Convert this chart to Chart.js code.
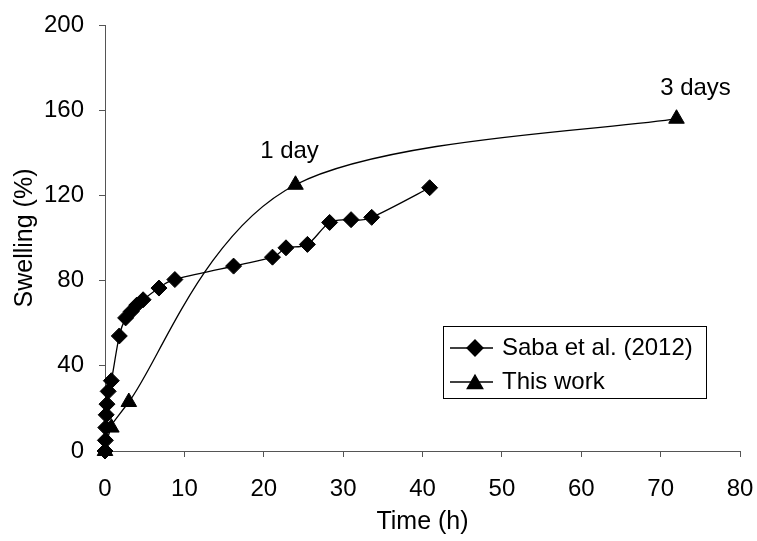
<!DOCTYPE html>
<html>
<head>
<meta charset="utf-8">
<script src="https://cdn.jsdelivr.net/npm/chart.js@4.4.1/dist/chart.umd.min.js"></script>
<style>html,body{margin:0;padding:0;background:#fff;}canvas{display:block;}</style>
</head>
<body>
<canvas id="c" width="757" height="541"></canvas>
<script>
// ---- data ----
const seriesNames = ['Saba et al. (2012)', 'This work'];
const sabaTime     = [0, 0.05, 0.1, 0.15, 0.25, 0.4, 0.8, 1.8, 2.6, 3.3, 4.0, 4.8, 6.8, 8.8, 16.2, 21.1, 22.8, 25.5, 28.3, 31.0, 33.6, 40.9];
const sabaSwelling = [0, 5, 11, 17, 22, 28, 33, 54, 62.5, 65.5, 68.5, 71, 76.5, 80.5, 86.8, 91, 95.4, 97, 107.3, 108.6, 109.7, 123.6];
const workTime     = [0, 0.8, 3, 24, 72];
const workSwelling = [0, 11, 23, 125, 156];
const workLabels   = [null, null, null, '1 day', '3 days'];
const xTicks = [0, 10, 20, 30, 40, 50, 60, 70, 80];
const yTicks = [0, 40, 80, 120, 160, 200];
const xTitle = 'Time (h)';
const yTitle = 'Swelling (%)';

const FONT = 'Liberation Sans, Arial, sans-serif';
const AXIS_COLOR = '#555';

function toPoints(xs, ys) { return xs.map((x, i) => ({x: x, y: ys[i]})); }

// Excel-like smoothing: control points at 1/6 of neighbour difference
const excelSmooth = {
  id: 'excelSmooth',
  beforeDatasetDraw(chart, args) {
    const meta = args.meta;
    const line = meta.dataset;
    if (!line) return;
    if (typeof line.updateControlPoints === 'function') line.updateControlPoints(chart.chartArea, 'x');
    const pts = meta.data;
    for (let i = 0; i < pts.length; i++) {
      const p = pts[i], prev = pts[i - 1] || p, next = pts[i + 1] || p;
      const dx = (next.x - prev.x) / 6, dy = (next.y - prev.y) / 6;
      p.cp1x = p.x - dx; p.cp1y = p.y - dy;
      p.cp2x = p.x + dx; p.cp2y = p.y + dy;
    }
    line._path = undefined;
  }
};

const overlay = {
  id: 'overlay',
  afterDraw(chart) {
    const ctx = chart.ctx;
    const xs = chart.scales.x, ys = chart.scales.y;
    ctx.save();
    // point annotations
    ctx.fillStyle = '#000';
    ctx.font = '24px ' + FONT;
    ctx.textAlign = 'center';
    ctx.textBaseline = 'middle';
    workLabels.forEach((lab, i) => {
      if (!lab) return;
      const px = xs.getPixelForValue(workTime[i]);
      const py = ys.getPixelForValue(workSwelling[i]);
      const dx = i === 3 ? -6 : 19;
      const dy = i === 3 ? -33 : -30;
      ctx.fillText(lab, px + dx, py + dy);
    });
    // legend box
    const bx = 443, by = 326, bw = 263, bh = 72;
    ctx.strokeStyle = '#000';
    ctx.lineWidth = 1;
    ctx.strokeRect(bx + 0.5, by + 0.5, bw, bh);
    const rows = [
      {label: seriesNames[0], y: 348, style: 'rectRot', r: 8},
      {label: seriesNames[1], y: 382, style: 'triangle', r: 9}
    ];
    rows.forEach(row => {
      ctx.beginPath();
      ctx.lineWidth = 1.3;
      ctx.moveTo(450, row.y);
      ctx.lineTo(493, row.y);
      ctx.stroke();
      ctx.fillStyle = '#000';
      Chart.helpers.drawPoint(ctx, {pointStyle: row.style, radius: row.r, borderWidth: 1, rotation: 0}, 475, row.style === 'triangle' ? row.y + 2 : row.y);
      ctx.fillStyle = '#000';
      ctx.textAlign = 'left';
      ctx.textBaseline = 'middle';
      ctx.font = '24px ' + FONT;
      ctx.fillText(row.label, 502, row.y);
    });
    ctx.restore();
  }
};

new Chart(document.getElementById('c'), {
  type: 'line',
  data: {
    datasets: [
      {
        label: seriesNames[0],
        data: toPoints(sabaTime, sabaSwelling),
        borderColor: '#000', backgroundColor: '#000',
        borderWidth: 1.3, tension: 0.3,
        pointStyle: 'rectRot', pointRadius: 8, pointBorderWidth: 1,
        pointBorderColor: '#000', pointBackgroundColor: '#000',
        clip: false
      },
      {
        label: seriesNames[1],
        data: toPoints(workTime, workSwelling),
        borderColor: '#000', backgroundColor: '#000',
        borderWidth: 1.3, tension: 0.3,
        pointStyle: 'triangle', pointRadius: 9, pointBorderWidth: 1,
        pointBorderColor: '#000', pointBackgroundColor: '#000',
        clip: false
      }
    ]
  },
  options: {
    responsive: false,
    animation: false,
    devicePixelRatio: 1,
    layout: {padding: {top: 25, right: 17, left: 0, bottom: 0}},
    plugins: {legend: {display: false}, tooltip: {enabled: false}},
    scales: {
      x: {
        type: 'linear', min: 0, max: 80,
        afterBuildTicks: s => { s.ticks = xTicks.map(v => ({value: v})); },
        afterFit: s => { s.height = 90; s.paddingLeft = 0; s.paddingRight = 0; },
        ticks: {color: '#000', font: {family: FONT, size: 24}, padding: 18, maxRotation: 0},
        grid: {drawOnChartArea: false, drawTicks: true, tickLength: 6, color: AXIS_COLOR},
        border: {color: AXIS_COLOR, width: 1},
        title: {display: true, text: xTitle, color: '#000', font: {family: FONT, size: 25}, padding: {top: 0, bottom: 4}}
      },
      y: {
        type: 'linear', min: 0, max: 200,
        afterBuildTicks: s => { s.ticks = yTicks.map(v => ({value: v})); },
        afterFit: s => { s.width = 105; s.paddingTop = 0; s.paddingBottom = 0; },
        ticks: {color: '#000', font: {family: FONT, size: 24}, padding: 15},
        grid: {drawOnChartArea: false, drawTicks: true, tickLength: 6, color: AXIS_COLOR},
        border: {color: AXIS_COLOR, width: 1},
        title: {display: true, text: yTitle, color: '#000', font: {family: FONT, size: 25}, padding: {top: 10, bottom: 0}}
      }
    }
  },
  plugins: [excelSmooth, overlay]
});
</script>
</body>
</html>
